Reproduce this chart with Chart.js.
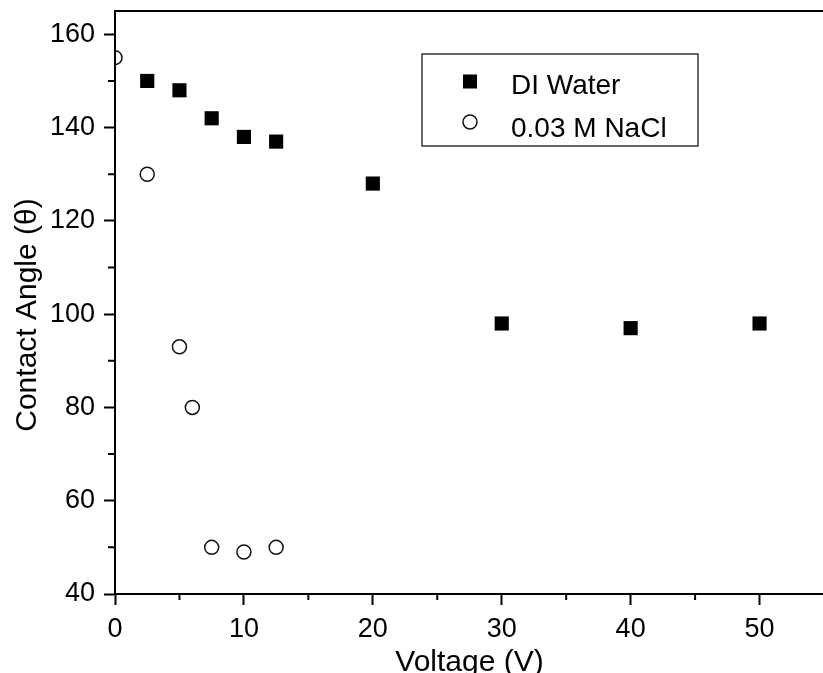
<!DOCTYPE html>
<html>
<head>
<meta charset="utf-8">
<script src="https://cdn.jsdelivr.net/npm/chart.js@4/dist/chart.umd.min.js"></script>
<style>
  html, body { margin: 0; padding: 0; background: #fff; overflow: hidden; }
  #wrap { width: 834px; height: 690px; }
</style>
</head>
<body>
<div id="wrap"><canvas id="angle" width="834" height="690"></canvas></div>
<script>
// Contact angle vs applied voltage
const waterVoltage = [2.5, 5, 7.5, 10, 12.5, 20, 30, 40, 50];
const waterAngle = [150, 148, 142, 138, 137, 128, 98, 97, 98];
const saltVoltage = [0, 2.5, 5, 6, 7.5, 10, 12.5];
const saltAngle = [155, 130, 93, 80, 50, 49, 50];
const seriesNames = ['DI Water', '0.03 M NaCl'];

const FONT = 'Liberation Sans, Arial, sans-serif';

function toPoints(xs, ys) {
  return xs.map((x, i) => ({ x: x, y: ys[i] }));
}

// labelled (long) ticks: every 10 V on x, every 20 degrees on y
const majorX = v => Math.abs(v % 10) < 1e-9;
const majorY = v => Math.abs(v % 20) < 1e-9;

// drop the extra room Chart.js keeps for the outer tick labels
function noEdgePadding(scale) {
  scale.paddingTop = 0;
  scale.paddingBottom = 0;
  scale.paddingLeft = 0;
  scale.paddingRight = 0;
}

// short minor tick marks, frame, and the boxed key
const decorations = {
  id: 'decorations',
  afterDatasetsDraw(chart) {
    const ctx = chart.ctx;
    const area = chart.chartArea;
    const xs = chart.scales.x;
    const ys = chart.scales.y;

    ctx.save();
    ctx.strokeStyle = '#000';
    ctx.lineWidth = 2;
    ctx.strokeRect(area.left, area.top, area.right - area.left, area.bottom - area.top);

    ctx.beginPath();
    xs.ticks.forEach(t => {
      if (majorX(t.value)) return;
      const px = xs.getPixelForValue(t.value);
      ctx.moveTo(px, area.bottom);
      ctx.lineTo(px, area.bottom + 6);
    });
    ys.ticks.forEach(t => {
      if (majorY(t.value)) return;
      const py = ys.getPixelForValue(t.value);
      ctx.moveTo(area.left, py);
      ctx.lineTo(area.left - 7, py);
    });
    ctx.stroke();

    // key
    const bx = area.left + 307, by = area.top + 43, bw = 276, bh = 92;
    ctx.lineWidth = 1.5;
    ctx.strokeStyle = '#333';
    ctx.strokeRect(bx, by, bw, bh);

    ctx.fillStyle = '#000';
    ctx.fillRect(bx + 41, by + 20.5, 14, 14);

    ctx.beginPath();
    ctx.arc(bx + 48, by + 68, 7, 0, Math.PI * 2);
    ctx.fillStyle = '#fff';
    ctx.fill();
    ctx.lineWidth = 1.5;
    ctx.strokeStyle = '#111';
    ctx.stroke();

    ctx.fillStyle = '#000';
    ctx.font = '28px ' + FONT;
    ctx.textAlign = 'left';
    ctx.textBaseline = 'alphabetic';
    ctx.fillText(seriesNames[0], bx + 89, by + 40);
    ctx.fillText(seriesNames[1], bx + 89, by + 82.5);
    ctx.restore();
  }
};

(function () {
  const canvas = document.getElementById('angle');

  new Chart(canvas, {
    type: 'scatter',
    data: {
      datasets: [{
        label: seriesNames[0],
        data: toPoints(waterVoltage, waterAngle),
        pointStyle: 'rect',
        pointRadius: 10,
        backgroundColor: '#000',
        borderColor: '#000',
        borderWidth: 0
      }, {
        label: seriesNames[1],
        data: toPoints(saltVoltage, saltAngle),
        pointStyle: 'circle',
        pointRadius: 7,
        backgroundColor: '#fff',
        borderColor: '#111',
        borderWidth: 1.5
      }]
    },
    options: {
      responsive: false,
      devicePixelRatio: 1,
      animation: false,
      events: [],
      layout: { padding: { top: 11, right: 2, bottom: 0, left: 0 } },
      plugins: {
        legend: { display: false },
        tooltip: { enabled: false }
      },
      scales: {
        x: {
          type: 'linear',
          min: 0,
          max: 55,
          afterFit: scale => { scale.height = 96; noEdgePadding(scale); },
          border: { display: true, color: '#000', width: 2 },
          grid: {
            drawOnChartArea: false,
            drawTicks: true,
            tickLength: 11,
            tickWidth: 2,
            tickColor: c => majorX(c.tick.value) ? '#000' : 'rgba(0,0,0,0)'
          },
          ticks: {
            stepSize: 5,
            autoSkip: false,
            maxRotation: 0,
            padding: 8,
            color: '#000',
            font: { family: FONT, size: 27 },
            callback: v => majorX(v) ? v : ''
          },
          title: {
            display: true,
            text: 'Voltage (V)',
            color: '#000',
            font: { family: FONT, size: 30 },
            padding: { top: 0, bottom: 9 }
          }
        },
        y: {
          type: 'linear',
          min: 40,
          max: 165,
          afterFit: scale => { scale.width = 115; noEdgePadding(scale); },
          border: { display: true, color: '#000', width: 2 },
          grid: {
            drawOnChartArea: false,
            drawTicks: true,
            tickLength: 11,
            tickWidth: 2,
            tickColor: c => majorY(c.tick.value) ? '#000' : 'rgba(0,0,0,0)'
          },
          ticks: {
            stepSize: 10,
            includeBounds: false,
            autoSkip: false,
            padding: 9,
            color: '#000',
            font: { family: FONT, size: 27 },
            callback: v => majorY(v) ? v : ''
          },
          title: {
            display: true,
            text: 'Contact Angle (θ)   ',
            color: '#000',
            font: { family: FONT, size: 30 },
            padding: { top: 10, bottom: 0 }
          }
        }
      }
    },
    plugins: [decorations]
  });
})();
</script>
</body>
</html>
